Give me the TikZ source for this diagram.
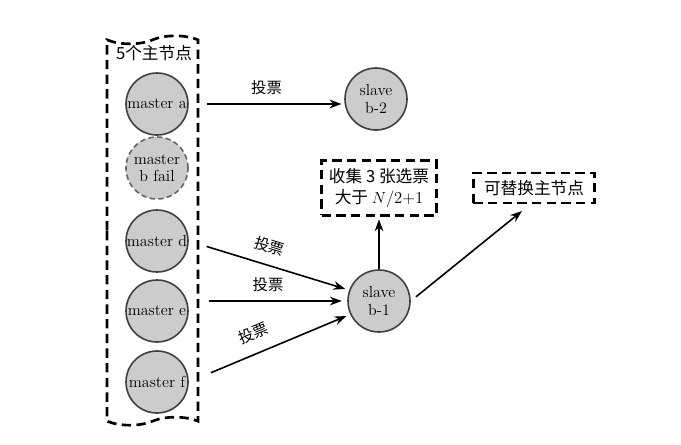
\documentclass[tikz,border=0pt]{standalone}
\usepackage{fontspec}
\usepackage{xcolor}
\usepackage{tikz}
\usetikzlibrary{arrows.meta,shapes.symbols}
\newfontfamily\cjk{Noto Sans CJK SC}

\begin{document}
\begin{tikzpicture}[
        x=0.75pt, y=-0.75pt,
        master/.style={circle, draw=black!75, fill=black!20, line width=1.2pt,
            minimum size=46.5pt, inner sep=0pt, align=center,
            font=\fontsize{12}{13}\selectfont},
        failed/.style={master, draw=black!60, dash pattern=on 4pt off 2.5pt},
        vote/.style={-{Stealth[length=9pt,width=6.5pt]}, line width=1.2pt},
        ballot/.style={font=\cjk\fontsize{11.5}{13}\selectfont, inner sep=1pt},
        dashbox/.style={draw, line width=2pt, dash pattern=on 7pt off 4pt,
            align=center, inner sep=2pt, font=\cjk\fontsize{12.5}{16}\selectfont}
    ]
    \useasboundingbox (0,0) rectangle (681,444);

    % masters
    \node[
        tape, draw, line width=2pt, dash pattern=on 7pt off 4pt,
        minimum width=68.25pt, minimum height=292pt, tape bend height=6pt
    ] (group) at (152.5,230.5) {};
    \node[font=\cjk\fontsize{12.5}{14}\selectfont] (grouplabel) at (154,53) {5个主节点};

    \node[master] (ma) at (157,104) {master a};
    \node[failed] (mb) at (157,168) {master\\b fail};
    \node[master] (md) at (157,241) {master d};
    \node[master] (me) at (157,311) {master e};
    \node[master] (mf) at (157,382) {master f};

    % slaves
    \node[master] (sb2) at (376,99) {slave\\b-2};
    \node[master] (sb1) at (379,301) {slave\\b-1};

    \node[dashbox, minimum width=86pt, minimum height=41pt] (votes) at (379,188)
        {收集 3 张选票\\大于 {\rmfamily$N$/2+1}};
    \node[dashbox, minimum width=91pt, minimum height=22.5pt] (newmaster) at (534,188)
        {可替换主节点};
    \coordinate (nmtip) at (522,211);

    \draw[vote, shorten <=14pt, shorten >=2pt] (ma.east) -- (sb2.west |- ma.east)
        node[ballot, midway, above=5pt] (va) {投票};
    \draw[vote, shorten <=14pt, shorten >=3pt] (md.east) -- (sb1.160)
        node[ballot, pos=0.47, above=7pt, sloped] (vd) {投票};
    \draw[vote, shorten <=15pt, shorten >=4pt] (me.east |- sb1.west) -- (sb1.west)
        node[ballot, midway, above=5pt] (ve) {投票};
    \draw[vote, shorten <=18pt, shorten >=3pt] (mf.east) -- (sb1.205)
        node[ballot, pos=0.45, above=8pt, sloped] (vf) {投票};

    \draw[vote, shorten >=2pt] (sb1) -- (votes);
    \draw[vote, shorten <=5pt] (sb1.east) -- (nmtip);
\end{tikzpicture}
\end{document}
